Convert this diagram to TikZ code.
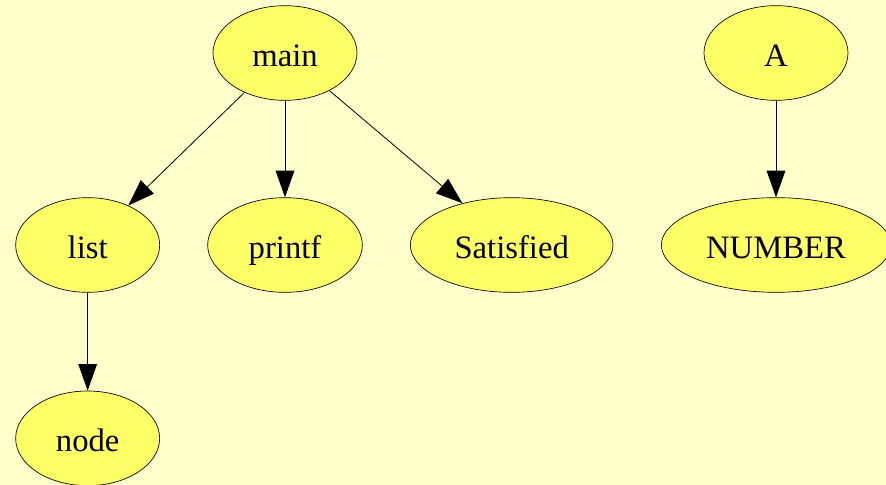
\documentclass[tikz,border=0pt]{standalone}
\usepackage{fontspec}
\setmainfont{Liberation Serif}
\usetikzlibrary{arrows.meta, positioning, shapes.geometric}

\definecolor{paper}{HTML}{FFFFCC}
\definecolor{blobfill}{HTML}{FFFF66}

\begin{document}
\begin{tikzpicture}[
  x=0.75pt, y=-0.75pt,
  blob/.style={ellipse, draw, fill=blobfill, line width=0.5pt, inner sep=0pt,
    minimum width=108pt, minimum height=71pt,
    text height=20pt, text depth=0pt,
    font=\fontsize{24.5}{29}\selectfont},
  edge/.style={-{Triangle[length=20pt, width=14pt]}, line width=0.6pt},
  on grid
]
\fill[paper] (0,0) rectangle (886,485);
\useasboundingbox (0,0) rectangle (886,485);

\node[blob] (main) at (285,53) {main};
\node[blob, below left=144pt and 148pt of main] (list) {list};
\node[blob, below=144pt of main, minimum width=116pt] (printf) {printf};
\node[blob, below right=144pt and 170pt of main, minimum width=152pt] (sat) {Satisfied};
\node[blob, below=145pt of list] (node) {node};

\node[blob] (A) at (776,53) {A};
\node[blob, below=144pt of A, minimum width=172pt] (num) {NUMBER};

\draw[edge] (main) -- (list);
\draw[edge] (main) -- (printf);
\draw[edge] (main) -- (sat);
\draw[edge] (list) -- (node);
\draw[edge] (A) -- (num);
\end{tikzpicture}
\end{document}
